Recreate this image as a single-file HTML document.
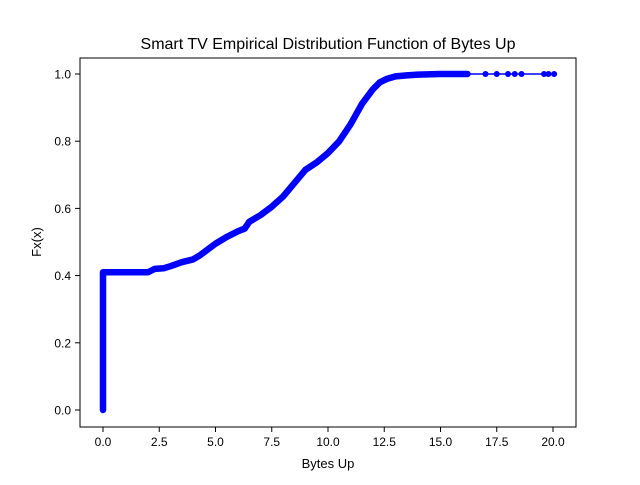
<!DOCTYPE html>
<html><head><meta charset="utf-8"><style>
body{margin:0;background:#fff}
text{font-family:"Liberation Sans","DejaVu Sans",sans-serif;fill:#000}
</style></head><body>
<svg id="chart" width="640" height="480" viewBox="0 0 640 480">
<rect width="640" height="480" fill="#fff"/>
<text x="328" y="49" font-size="16" text-anchor="middle">Smart TV Empirical Distribution Function of Bytes Up</text>
<g id="plot"></g>
<rect x="80" y="58" width="496" height="369" fill="none" stroke="#000" stroke-width="1"/>
<g id="xticks"></g>
<g id="yticks"></g>
<text x="328" y="468" font-size="13" text-anchor="middle">Bytes Up</text>
<text x="41" y="242" font-size="13" text-anchor="middle" transform="rotate(-90 41 242)">Fx(x)</text>
</svg>
<script>
const curveX=[0,0,0.3,1,2.0,2.3,2.7,3,3.5,4,4.3,4.6,5,5.5,6,6.3,6.5,7,7.5,8,8.5,9,9.5,10,10.5,11,11.5,12,12.3,12.6,13,13.5,14,15,16.2];
const curveY=[0,0.41,0.41,0.41,0.41,0.42,0.422,0.428,0.44,0.448,0.46,0.475,0.495,0.515,0.532,0.54,0.56,0.58,0.605,0.635,0.675,0.715,0.737,0.765,0.80,0.85,0.91,0.955,0.975,0.985,0.993,0.996,0.998,1.0,1.0];
const tailX=[16.2,17.0,17.5,18.0,18.3,18.6,19.6,19.8,20.05];
const tailY=[1,1,1,1,1,1,1,1,1];
const xTicks=[0,2.5,5,7.5,10,12.5,15,17.5,20];
const xTickLabels=["0.0","2.5","5.0","7.5","10.0","12.5","15.0","17.5","20.0"];
const yTicks=[0,0.2,0.4,0.6,0.8,1.0];
const yTickLabels=["0.0","0.2","0.4","0.6","0.8","1.0"];
const NS="http://www.w3.org/2000/svg";
const X=v=>103+v*22.5, Y=v=>410-v*336;
function mk(t,a,p){const e=document.createElementNS(NS,t);for(const k in a)e.setAttribute(k,a[k]);p.appendChild(e);return e;}
const plot=document.getElementById('plot');
const pts=curveX.map((x,i)=>X(x)+','+Y(curveY[i])).join(' ');
const thick=mk('polyline',{points:pts,fill:'none',stroke:'#0000ff','stroke-width':6.5,'stroke-linejoin':'round','stroke-linecap':'round'},plot);


const tl=mk('polyline',{points:tailX.map((x,i)=>X(x)+','+Y(tailY[i])).join(' '),fill:'none',stroke:'#0000ff','stroke-width':1.5},plot);


tailX.forEach((x,i)=>{const c=mk('circle',{cx:X(x),cy:Y(tailY[i]),r:3,fill:'#0000ff'},plot);

});
const xg=document.getElementById('xticks');
xTicks.forEach((v,i)=>{mk('line',{x1:X(v),x2:X(v),y1:427,y2:432,stroke:'#000'},xg);
const t=mk('text',{x:X(v),y:446,'font-size':12,'text-anchor':'middle'},xg);t.textContent=xTickLabels[i];

});
const yg=document.getElementById('yticks');
yTicks.forEach((v,i)=>{mk('line',{x1:75,x2:80,y1:Y(v),y2:Y(v),stroke:'#000'},yg);
const t=mk('text',{x:71,y:Y(v)+4.5,'font-size':12,'text-anchor':'end'},yg);t.textContent=yTickLabels[i];

});
</script>
</body></html>
